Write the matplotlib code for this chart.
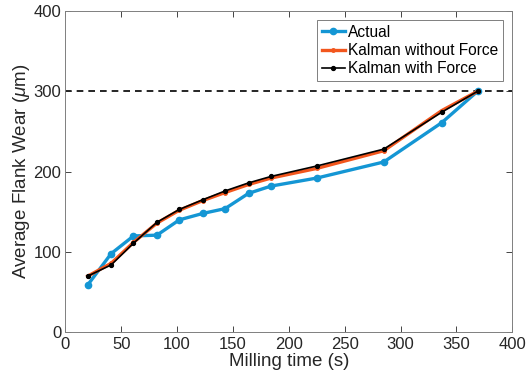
import numpy as np
import matplotlib
matplotlib.use("Agg")
import matplotlib.pyplot as plt

plt.rcParams["font.family"] = ["Liberation Sans", "DejaVu Sans"]
plt.rcParams["mathtext.fontset"] = "custom"
plt.rcParams["mathtext.it"] = "Liberation Sans:italic"

# Milling time (s)
time_s = [20, 41, 61, 82, 102, 123, 143, 164, 184, 225, 285, 337, 369]

# Average flank wear (um)
actual = [59, 98, 120, 121, 140, 148, 154, 173, 182, 192, 212, 261, 300]
kalman_no_force = [70, 86, 112, 136, 152, 164, 174, 184, 192, 204, 226, 276, 300]
kalman_force = [70, 84, 111, 137, 153, 165, 176, 186, 194, 207, 228, 274, 300]

wear_limit = 300

fig = plt.figure(figsize=(5.27, 3.87), dpi=100)
ax = fig.add_axes([0.124, 0.141, 0.848, 0.831])

axis_gray = "#262626"

ax.axhline(wear_limit, color="black", linestyle=(0, (4, 3)), linewidth=1.2, zorder=1)

ax.plot(time_s, actual, color="#1496d4", linewidth=2.4, marker="o",
        markersize=4.5, label="Actual", zorder=3)
ax.plot(time_s, kalman_no_force, color="#f2561d", linewidth=2.4, marker="o",
        markersize=2.5, label="Kalman without Force", zorder=4)
ax.plot(time_s, kalman_force, color="black", linewidth=1.2, marker="o",
        markersize=2.8, label="Kalman with Force", zorder=5)

ax.set_xlim(0, 400)
ax.set_ylim(0, 400)
ax.set_xticks(np.arange(0, 401, 50))
ax.set_yticks(np.arange(0, 401, 100))
ax.tick_params(direction="in", top=True, right=True, labelsize=12,
               colors=axis_gray, length=4, width=0.6, pad=3)
for spine in ax.spines.values():
    spine.set_color("#7f7f7f")
    spine.set_linewidth(0.7)

ax.set_xlabel("Milling time (s)", fontsize=13.5, color=axis_gray, labelpad=1)
ax.set_ylabel(r"Average Flank Wear ($\mu$m)", fontsize=13.5, color=axis_gray, labelpad=1)

leg = ax.legend(loc="upper right", fontsize=11.2, handlelength=1.5,
                handletextpad=0.2, borderpad=0.3, labelspacing=0.2,
                borderaxespad=0.6, fancybox=False, framealpha=1)
leg.get_frame().set_edgecolor("#7f7f7f")
leg.get_frame().set_linewidth(0.7)

fig.savefig("out.png", dpi=100)
